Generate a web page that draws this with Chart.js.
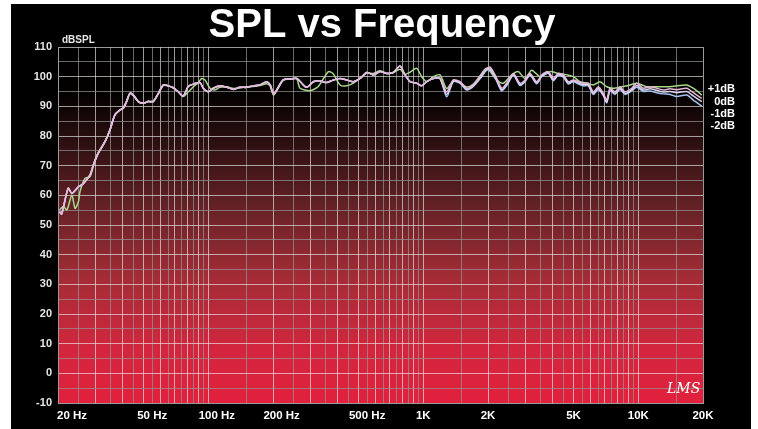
<!DOCTYPE html>
<html><head><meta charset="utf-8">
<script src="https://cdn.jsdelivr.net/npm/chart.js@4.4.1/dist/chart.umd.min.js"></script>
<style>html,body{margin:0;padding:0;background:#fff;}canvas{display:block;}</style>
</head><body>
<canvas id="c" width="758" height="429"></canvas>
<script>
// Frequencies (Hz) shared by the 0dB, -1dB and -2dB curves
const freqs = [20.3,20.8,22.3,23.2,24.9,25.8,26.7,28.2,29.2,30.8,
33.1,34.9,36.8,38.9,40.2,41.7,43.2,44.8,47.3,49.9,
52.6,55.5,58.6,61.8,65.2,68.8,72.5,76.5,80.7,85.2,
91.5,94.8,100,105.5,113,122,131,140,151,162,
174,187,194,201,208,223,240,258,272,287,
308,331,355,382,410,440,473,508,546,586,
629,676,725,779,822,868,932,983,1037,1113,
1196,1285,1379,1482,1592,1709,1836,1972,2044,2156,
2316,2444,2624,2818,2973,3136,3369,3556,3815,4025,
4246,4479,4726,4986,5260,5549,5856,6178,6516,6878,
7132,7388,7792,8222,8676,9320,9832,10554,11340,12182,
13074,14044,15092,16804,18032,19726];

const spl0dB = [54.5,53.7,62.4,60.7,62.9,63.5,64.6,66.9,70.2,74.2,
78.1,82.0,87.1,88.8,89.3,91.6,94.4,93.8,91.6,91.0,
91.6,91.6,94.4,97.2,96.9,96.3,94.9,93.5,96.7,97.5,
98.0,96.1,94.9,96.1,96.9,96.4,95.7,96.4,96.4,96.9,
97.2,98.3,97.2,94.2,95.5,98.9,99.2,99.4,97.8,96.4,
98.3,98.6,98.0,98.9,99.4,98.9,98.3,99.4,101.4,100.6,
101.7,101.1,101.4,103.6,100.6,98.3,97.8,96.9,98.3,99.4,
99.4,94.9,98.9,98.3,96.1,97.2,100.0,102.8,103.2,100.6,
96.1,97.8,101.1,97.8,98.9,101.1,98.3,100.6,101.7,99.4,
101.1,100.6,98.3,98.9,98.3,97.8,97.8,94.9,96.6,94.4,
92.1,96.1,94.9,96.6,94.9,96.1,97.8,96.1,96.6,96.1,
95.5,95.9,95.6,96.1,94.6,92.7];

const splMinus1dB = [54.5,53.7,62.4,60.7,62.9,63.5,64.6,66.9,70.2,74.2,
78.1,82.0,87.1,88.8,89.3,91.6,94.4,93.8,91.6,91.0,
91.6,91.6,94.4,97.2,96.9,96.3,94.9,93.5,96.7,97.5,
98.0,96.1,94.9,96.1,96.9,96.4,95.7,96.4,96.4,96.9,
97.2,98.3,97.2,94.2,95.5,98.9,99.2,99.4,97.8,96.4,
98.3,98.6,98.0,98.9,99.4,98.9,98.3,99.4,101.4,100.6,
101.7,101.1,101.4,103.6,100.6,98.3,97.8,96.9,98.3,99.4,
99.4,94.0,98.6,98.0,95.8,97.0,99.6,102.5,102.6,100.2,
95.6,97.4,100.8,97.4,98.6,100.8,98.0,100.3,101.4,99.0,
100.8,100.2,97.9,98.6,97.9,97.3,97.3,94.4,96.1,94.0,
91.6,95.6,94.4,96.1,94.4,95.6,97.0,95.5,95.9,95.4,
94.8,95.0,94.6,95.0,93.5,91.6];

const splMinus2dB = [54.5,53.7,62.4,60.7,62.9,63.5,64.6,66.9,70.2,74.2,
78.1,82.0,87.1,88.8,89.3,91.6,94.4,93.8,91.6,91.0,
91.6,91.6,94.4,97.2,96.9,96.3,94.9,93.5,96.7,97.5,
98.0,96.1,94.9,96.1,96.9,96.4,95.7,96.4,96.4,96.9,
97.2,98.3,97.2,94.2,95.5,98.9,99.2,99.4,97.8,96.4,
98.3,98.6,98.0,98.9,99.4,98.9,98.3,99.4,101.4,100.6,
101.7,101.1,101.4,103.6,100.6,98.3,97.8,96.9,98.3,99.4,
99.4,93.2,98.3,97.8,95.5,96.7,99.3,102.2,102.2,99.8,
95.2,97.0,100.5,97.0,98.3,100.5,97.6,100.0,101.1,98.6,
100.5,99.8,97.5,98.3,97.5,96.9,96.9,94.0,95.7,93.6,
91.2,95.2,94.0,95.7,94.0,95.2,96.4,95.0,95.2,94.6,
94.2,94.0,93.3,93.8,92.1,90.1];

// +1dB curve has its own frequency points
const freqsPlus1 = [20.3,21.2,22.0,23.2,24.0,24.9,25.3,26.7,28.2,29.7,
30.8,33.1,34.9,36.8,38.9,40.2,41.7,43.2,44.8,47.3,
49.9,52.6,55.5,58.6,61.8,65.2,68.8,72.5,76.5,80.7,
85.2,89.9,93.2,96.6,101.9,107.5,113,122,131,140,
151,162,174,187,194,201,208,223,240,258,
267,297,324,362,382,410,440,473,517,546,
586,629,676,725,779,822,868,932,983,1037,
1113,1196,1285,1379,1482,1592,1709,1836,1972,2194,
2356,2578,2767,2973,3194,3492,3887,4246,4646,4986,
5358,5756,6178,6636,7132,7652,8374,9152,9832,10946,
12182,13560,15092,16804,18364,19726];

const splPlus1dB = [55.1,56.2,55.1,60.1,55.6,57.9,61.2,65.7,66.3,71.9,
74.5,78.3,82.2,87.2,88.8,89.5,91.8,94.2,93.6,91.5,
91.1,91.7,91.8,94.3,97.0,96.9,96.1,94.9,93.3,94.9,
96.6,98.0,99.4,98.9,96.1,95.5,96.4,96.6,96.0,96.2,
96.6,96.7,97.0,97.6,96.8,93.8,95.2,98.7,99.2,99.2,
96.1,95.3,96.6,101.7,100.9,97.2,96.9,97.8,100.0,101.2,
101.1,102.0,101.1,101.4,102.5,100.8,101.5,102.8,100.0,98.3,
100.0,100.6,96.0,98.6,98.0,96.5,97.5,100.3,102.8,98.9,
97.8,100.6,101.7,99.4,102.2,100.0,101.7,101.1,100.6,100.0,
98.3,97.8,97.2,98.3,96.6,96.1,96.6,97.2,97.8,96.6,
96.6,96.6,96.9,97.2,95.7,93.8];

const xTickValues = [20,50,100,200,500,1000,2000,5000,10000,20000];
const xTickLabels = ['20 Hz','50 Hz','100 Hz','200 Hz','500 Hz','1K','2K','5K','10K','20K'];
const yTickValues = [-10,0,10,20,30,40,50,60,70,80,90,100,110];
const seriesLabels = ['+1dB','0dB','-1dB','-2dB'];
const titleText = 'SPL vs Frequency';
const yUnit = 'dBSPL';

// grid frequencies
const gridFreqs = [];
for (let f = 20; f <= 100; f += 5) gridFreqs.push(f);
for (let f = 150; f <= 1000; f += 50) gridFreqs.push(f);
for (let f = 1500; f <= 10000; f += 500) gridFreqs.push(f);
gridFreqs.push(15000, 20000);

function pts(xs, ys){ return xs.map((x,i)=>({x:x, y:ys[i]})); }
function isMajor(v){ const m = v / Math.pow(10, Math.floor(Math.log10(v)+1e-9)); return Math.abs(m-Math.round(m))<1e-6; }

const FONT = '"Liberation Sans", Arial, Helvetica, sans-serif';

const deco = {
  id:'deco',
  beforeDraw(chart){
    const {ctx, chartArea:a} = chart;
    ctx.save();
    ctx.fillStyle='#ffffff'; ctx.fillRect(0,0,chart.width,chart.height);
    ctx.fillStyle='#000000'; ctx.fillRect(11,4,740,chart.height-4);
    const g = ctx.createLinearGradient(0,a.top,0,a.bottom);
    g.addColorStop(0,'#000000');
    g.addColorStop(0.13,'#040000');
    g.addColorStop(0.26,'#2a0f10');
    g.addColorStop(0.45,'#652226');
    g.addColorStop(0.65,'#a42c36');
    g.addColorStop(0.85,'#d3263e');
    g.addColorStop(1,'#e2203d');
    ctx.fillStyle=g; ctx.fillRect(a.left,a.top,a.right-a.left,a.bottom-a.top);
    ctx.restore();
  },
  afterDraw(chart){
    const {ctx} = chart;
    const xs = chart.scales.x, ys = chart.scales.y;
    ctx.save();
    ctx.fillStyle='#ffffff';
    ctx.font='bold 40px '+FONT;
    ctx.textAlign='center'; ctx.textBaseline='alphabetic';
    ctx.fillText(titleText, 382, 37);
    ctx.font='bold 11px '+FONT;
    ctx.fillStyle='#e6e6e6';
    ctx.textAlign='right'; ctx.textBaseline='middle';
    yTickValues.forEach(v=>ctx.fillText(String(v), 52, ys.getPixelForValue(v)));
    ctx.textAlign='left';
    ctx.font='bold 10px '+FONT;
    ctx.fillText(yUnit, 62, 40);
    ctx.font='bold 11.5px '+FONT;
    ctx.fillStyle='#ffffff';
    xTickValues.forEach((v,i)=>{
      const px = xs.getPixelForValue(v);
      const lab = xTickLabels[i];
      if (lab.indexOf('Hz')>=0){
        const num = lab.split(' ')[0];
        let left = px - ctx.measureText(num).width/2;
        if (left < 57) left = 57;
        ctx.textAlign='left';
        ctx.fillText(lab, left, 416);
      } else {
        ctx.textAlign='center';
        ctx.fillText(lab, px, 416);
      }
    });
    ctx.font='bold 11px '+FONT;
    ctx.textAlign='right';
    const ly=[89,102,114,126];
    seriesLabels.forEach((s,i)=>ctx.fillText(s, 735, ly[i]));
    ctx.font='italic 14px "DejaVu Serif", serif';
    ctx.textAlign='left'; ctx.textBaseline='alphabetic';
    ctx.fillStyle='#ffffff';
    ctx.fillText('LMS', 667, 393);
    ctx.restore();
  }
};

new Chart(document.getElementById('c'), {
  type:'line',
  data:{
    datasets:[
      {label:'0dB', data:pts(freqs, spl0dB), borderColor:'#e8b6da'},
      {label:'-1dB', data:pts(freqs, splMinus1dB), borderColor:'#dcd6f2'},
      {label:'-2dB', data:pts(freqs, splMinus2dB), borderColor:'#a4c6f0'},
      {label:'+1dB', data:pts(freqsPlus1, splPlus1dB), borderColor:'#a8d88c'}
    ]
  },
  options:{
    responsive:false, animation:false, devicePixelRatio:1,
    layout:{padding:{left:58, top:47, right:55, bottom:26}},
    elements:{line:{borderWidth:1.5, tension:0.25, fill:false}, point:{radius:0}},
    plugins:{legend:{display:false}, tooltip:{enabled:false}, title:{display:false}},
    scales:{
      x:{type:'logarithmic', min:20, max:20000,
        afterBuildTicks:(s)=>{ s.ticks = gridFreqs.map(v=>({value:v})); },
        afterFit:(s)=>{ s.height = 0; },
        ticks:{display:false},
        grid:{drawTicks:false, lineWidth:1,
          color:(c)=> (c.tick && isMajor(c.tick.value)) ? 'rgba(235,235,235,0.65)' : 'rgba(150,150,150,0.7)'},
        border:{display:true, color:'#9a9a9a', width:1}
      },
      y:{type:'linear', min:-10, max:110,
        ticks:{display:false, stepSize:5},
        afterFit:(s)=>{ s.width = 0; },
        grid:{drawTicks:false, lineWidth:1,
          color:(c)=> (c.tick && Math.round(c.tick.value)%10===0) ? 'rgba(235,235,235,0.65)' : 'rgba(150,150,150,0.7)'},
        border:{display:true, color:'#9a9a9a', width:1}
      }
    }
  },
  plugins:[deco]
});
</script>
</body></html>
